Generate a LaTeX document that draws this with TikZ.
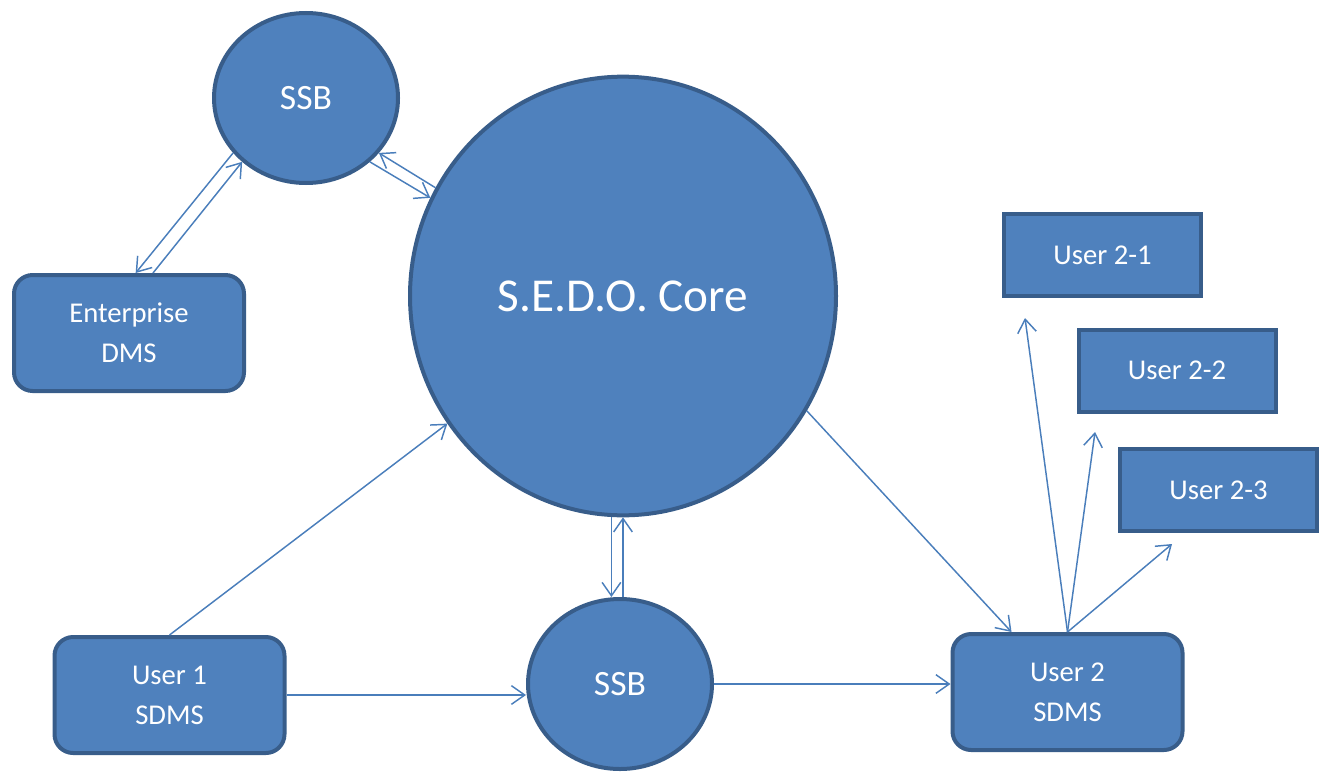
\documentclass[tikz,border=0pt]{standalone}
\usepackage{fontspec}
\setmainfont{Carlito}
\usetikzlibrary{shapes.geometric,arrows.meta}
\definecolor{boxfill}{HTML}{4F81BD}
\definecolor{boxline}{HTML}{385D8A}
\definecolor{linkcol}{HTML}{4A7EBB}

\begin{document}
\begin{tikzpicture}[x=.75pt, y=-.75pt, >={Straight Barb[length=10pt,width=14pt]},
    blob/.style={ellipse, draw=boxline, fill=boxfill, line width=3pt, text=white, inner sep=0pt},
    sdms/.style={rectangle, rounded corners=14pt, draw=boxline, fill=boxfill, line width=3pt, text=white,
        align=center, minimum width=172.5pt, minimum height=87pt, font=\fontsize{21.5}{30}\selectfont},
    user/.style={rectangle, draw=boxline, fill=boxfill, line width=3pt, text=white,
        minimum width=147.75pt, minimum height=61.5pt, font=\fontsize{21.5}{26}\selectfont},
    link/.style={->, draw=linkcol, line width=1.1pt}]
\useasboundingbox (0,0) rectangle (1326,771);

% circles
\node[blob, minimum width=138pt, minimum height=127.5pt, font=\fontsize{26.7}{30}\selectfont] (ssbA) at (306,98) {SSB};
\node[blob, minimum width=319.5pt, minimum height=329pt, font=\fontsize{35.4}{40}\selectfont] (core) at (623,296) {S.E.D.O. Core};
\node[blob, minimum width=138pt, minimum height=127.5pt, font=\fontsize{26.7}{30}\selectfont] (ssbB) at (620,684) {SSB};

% boxes
\node[sdms] (ent) at (129,333) {Enterprise\\DMS};
\node[sdms] (uA) at (169.5,695) {User 1\\SDMS};
\node[sdms] (uB) at (1067.5,692) {User 2\\SDMS};
\node[user] (uB1) at (1102.5,255) {User 2-1};
\node[user] (uB2) at (1177,370.5) {User 2-2};
\node[user] (uB3) at (1218.5,490) {User 2-3};

\coordinate (eB1) at (1025,318);
\coordinate (eB2) at (1095,432);
\coordinate (eB3) at (1172,544);

% links
\draw[link] (ssbA.217) -- ([xshift=5pt]ent.north);
\draw[link] ([xshift=18pt]ent.north) -- (ssbA.225);
\draw[link] (ssbA.315) -- (core.153);
\draw[link] (core.150) -- (ssbA.323);
\draw[link] (core.267) -- (core.267 |- ssbB.north);
\draw[link] (core.south |- ssbB.north) -- (core.south);
\draw[link] (uA.north) -- (core.216);
\draw[link] (uA.east) -- (uA.east -| ssbB.west);
\draw[link] (ssbB.east) -- (ssbB.east -| uB.west);
\draw[link] (core.328) -- ([xshift=-42pt]uB.north);
\foreach \e in {eB1,eB2,eB3}
{
    \draw[link] (uB.north) -- (\e);
}
\end{tikzpicture}
\end{document}
